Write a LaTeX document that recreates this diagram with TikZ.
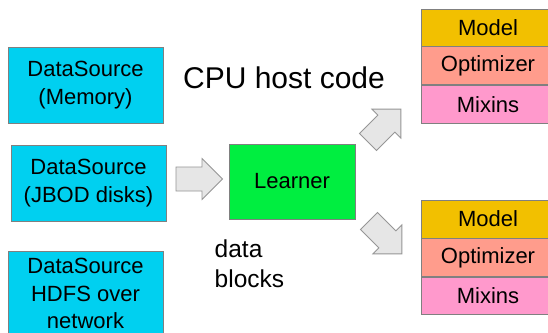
\documentclass[tikz,border=0pt]{standalone}
\usepackage{fontspec}
\setmainfont{Liberation Sans}
\definecolor{dscyan}{RGB}{0,208,240}
\definecolor{lgreen}{RGB}{0,238,64}
\definecolor{mgold}{RGB}{242,192,0}
\definecolor{osalmon}{RGB}{255,156,140}
\definecolor{mpink}{RGB}{255,153,204}
\definecolor{bordergray}{RGB}{128,128,128}
\definecolor{arrowfill}{RGB}{230,230,230}
\definecolor{arrowline}{RGB}{150,150,150}
\tikzset{
  box/.style={draw=bordergray, line width=0.8pt, rectangle, align=center, inner sep=0pt,
    font=\fontsize{22}{27.5}\selectfont},
  dsbox/.style={box, fill=dscyan, minimum width=155pt, minimum height=76pt},
  layer/.style={box, minimum width=134pt},
  blockarrow/.style={draw=arrowline, fill=arrowfill, line width=0.8pt, line join=miter},
}
\begin{document}
\begin{tikzpicture}[x=1pt,y=-1pt]
\clip (0,0) rectangle (548,332);
\fill[white] (0,0) rectangle (548,332);

% data sources
\node[dsbox] (ds1) at (85.5,85) {DataSource\\(Memory)};
\node[dsbox] (ds2) at (88.5,183) {DataSource\\(JBOD disks)};
\node[dsbox, minimum height=85pt] (ds3) at (85.5,293.5) {DataSource\\HDFS over\\network};

% learner
\node[box, fill=lgreen, minimum width=126pt, minimum height=75pt] (learner) at (292,181.5) {Learner};

% labels
\node[font=\fontsize{30}{36}\selectfont] (cpu) at (284,78) {CPU host code};
\node[font=\fontsize{24.5}{30}\selectfont, align=left, anchor=north west, inner sep=0pt] (blocks) at (214.5,240) {data\\blocks};

% top stack
\node[layer, fill=mgold, minimum height=37pt] (m1) at (488,27.5) {Model};
\node[layer, fill=osalmon, minimum height=38pt, anchor=north] (o1) at (m1.south) {Optimizer};
\node[layer, fill=mpink, minimum height=38pt, anchor=north] (x1) at (o1.south) {Mixins};

% bottom stack
\node[layer, fill=mgold, minimum height=38pt] (m2) at (488,219) {Model};
\node[layer, fill=osalmon, minimum height=38pt, anchor=north] (o2) at (m2.south) {Optimizer};
\node[layer, fill=mpink, minimum height=37pt, anchor=north] (x2) at (o2.south) {Mixins};

% block arrows
\begin{scope}[shift={(176,179)}]
  \draw[blockarrow] (0,-12) -- (26,-12) -- (26,-20.5) -- (46.5,0) -- (26,20.5) -- (26,12) -- (0,12) -- cycle;
\end{scope}
\begin{scope}[shift={(368,142)}, rotate=45]
  \draw[blockarrow] (0,-12) -- (26,-12) -- (26,-20.5) -- (46.5,0) -- (26,20.5) -- (26,12) -- (0,12) -- cycle;
\end{scope}
\begin{scope}[shift={(369,221)}, rotate=-45]
  \draw[blockarrow] (0,-12) -- (26,-12) -- (26,-20.5) -- (46.5,0) -- (26,20.5) -- (26,12) -- (0,12) -- cycle;
\end{scope}
\end{tikzpicture}
\end{document}
